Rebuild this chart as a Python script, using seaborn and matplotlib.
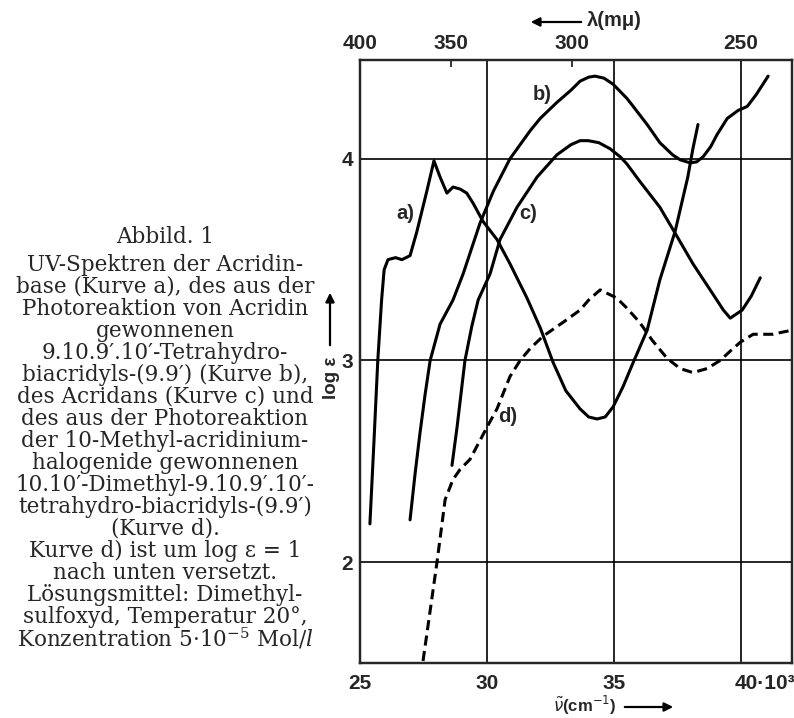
import matplotlib

matplotlib.use("Agg")

import pandas as pd
import matplotlib.pyplot as plt
import matplotlib.transforms as mtransforms
import seaborn as sns

# wavenumber (10^3 cm^-1) and log eps
a_wn = [25.39, 25.55, 25.70, 25.85, 25.95, 26.1, 26.4, 26.65, 26.97, 27.24,
        27.63, 27.91, 28.15, 28.42, 28.66, 28.94, 29.2, 29.45, 29.84, 30.39,
        30.9, 31.57, 32.1, 32.6, 33.1, 33.66, 34.0, 34.33, 34.65, 34.96,
        35.35, 35.75, 36.3, 36.6, 36.8, 37.4, 37.9, 38.1, 38.3]
a_loge = [2.19, 2.6, 3.0, 3.3, 3.45, 3.50, 3.51, 3.50, 3.52, 3.64,
          3.84, 3.99, 3.91, 3.83, 3.86, 3.85, 3.83, 3.78, 3.69, 3.60,
          3.48, 3.31, 3.16, 2.99, 2.85, 2.76, 2.72, 2.71, 2.72, 2.77,
          2.87, 2.99, 3.15, 3.30, 3.40, 3.64, 3.91, 4.05, 4.17]

b_wn = [26.97, 27.16, 27.36, 27.56, 27.76, 28.15, 28.66, 29.06, 29.72, 30.25,
        30.9, 31.7, 32.09, 32.75, 33.3, 33.66, 34.0, 34.25, 34.6, 34.96,
        35.5, 35.75, 36.3, 36.8, 37.3, 37.6, 37.99, 38.25, 38.5, 38.8,
        39.05, 39.45, 39.88, 40.24, 40.6, 41.06]
b_loge = [2.21, 2.43, 2.64, 2.83, 3.00, 3.18, 3.30, 3.43, 3.68, 3.84,
          4.00, 4.14, 4.20, 4.28, 4.34, 4.385, 4.405, 4.41, 4.40, 4.37,
          4.30, 4.26, 4.17, 4.08, 4.02, 3.995, 3.98, 3.985, 4.01, 4.06,
          4.12, 4.20, 4.24, 4.26, 4.32, 4.41]

c_wn = [28.62, 28.82, 29.13, 29.4, 29.65, 30.12, 30.51, 31.18, 31.97, 32.75,
        33.3, 33.66, 33.98, 34.4, 34.84, 35.24, 35.5, 36.0, 36.8, 37.5,
        38.1, 38.78, 39.3, 39.57, 40.04, 40.4, 40.75]
c_loge = [2.48, 2.67, 3.00, 3.17, 3.30, 3.43, 3.60, 3.76, 3.91, 4.02,
          4.07, 4.09, 4.09, 4.08, 4.05, 4.01, 3.975, 3.89, 3.76, 3.61,
          3.48, 3.35, 3.25, 3.21, 3.25, 3.32, 3.41]

d_wn = [27.48, 27.75, 28.03, 28.35, 28.66, 28.94, 29.33, 30.0, 30.39, 30.9,
        31.3, 31.7, 32.2, 33.0, 33.66, 34.0, 34.45, 35.1, 35.5, 36.0,
        36.5, 37.09, 37.6, 38.1, 38.66, 39.17, 39.6, 39.96, 40.47, 40.9,
        41.26, 41.6, 42.0]
d_loge = [1.51, 1.75, 2.0, 2.31, 2.41, 2.46, 2.51, 2.67, 2.76, 2.92,
          3.0, 3.06, 3.12, 3.19, 3.25, 3.30, 3.35, 3.31, 3.26, 3.19,
          3.10, 3.01, 2.96, 2.94, 2.96, 3.0, 3.05, 3.09, 3.13, 3.13,
          3.13, 3.14, 3.15]

curve_names = ["a", "b", "c", "d"]
label_pos = {"a": (26.77, 3.73), "b": (32.17, 4.32), "c": (31.61, 3.73), "d": (30.83, 2.72)}

x_ticks = [25, 30, 35, 40]
x_ticklabels = ["25", "30", "35", "40·10³"]
y_ticks = [2, 3, 4]
lambda_nm = [400, 350, 300, 250]

caption_title = "Abbild. 1"
caption_lines = [
    "UV-Spektren der Acridin-",
    "base (Kurve a), des aus der",
    "Photoreaktion von Acridin",
    "gewonnenen",
    "9.10.9′.10′-Tetrahydro-",
    "biacridyls-(9.9′) (Kurve b),",
    "des Acridans (Kurve c) und",
    "des aus der Photoreaktion",
    "der 10-Methyl-acridinium-",
    "halogenide gewonnenen",
    "10.10′-Dimethyl-9.10.9′.10′-",
    "tetrahydro-biacridyls-(9.9′)",
    "(Kurve d).",
    "Kurve d) ist um log ε = 1",
    "nach unten versetzt.",
    "Lösungsmittel: Dimethyl-",
    "sulfoxyd, Temperatur 20°,",
    r"Konzentration 5·10$^{-5}$ Mol/$\mathit{l}$",
]

W, H = 794, 718


def fxy(px, py):
    return px / W, 1 - py / H


sns.set_style("white")
plt.rcParams["font.family"] = ["DejaVu Sans"]
plt.rcParams["mathtext.fontset"] = "dejavuserif"
label_font = ["Liberation Sans Narrow", "Liberation Sans", "DejaVu Sans"]

fig = plt.figure(figsize=(W / 100, H / 100), dpi=100)
ax = fig.add_axes([360 / W, 1 - 663 / H, 432 / W, 603 / H])

frames = []
for name, xs, ys in [("a", a_wn, a_loge), ("b", b_wn, b_loge),
                     ("c", c_wn, c_loge), ("d", d_wn, d_loge)]:
    frames.append(pd.DataFrame({"wn": xs, "loge": ys, "curve": name}))
df = pd.concat(frames, ignore_index=True)

sns.lineplot(
    data=df, x="wn", y="loge", style="curve",
    dashes={"a": "", "b": "", "c": "", "d": (3.3, 1.8)},
    color="black", linewidth=2.2, estimator=None, sort=False,
    legend=False, ax=ax,
)

for name in curve_names:
    x, y = label_pos[name]
    ax.text(x, y, name + ")", fontsize=14.5, fontweight="bold",
            family=label_font, ha="center", va="center")

ax.set_xlim(25, 42)
ax.set_ylim(1.5, 4.49)
ax.set_xticks(x_ticks, x_ticklabels)
ax.set_yticks(y_ticks)
ax.grid(True, color="black", linewidth=1.2)
ax.set_xlabel("")
ax.set_ylabel("")
for s in ax.spines.values():
    s.set_color("black")
    s.set_linewidth(1.6)
ax.tick_params(axis="x", length=0, pad=8, labelsize=15)
ax.tick_params(axis="y", length=0, pad=5, labelsize=15)
for lbl in ax.get_xticklabels() + ax.get_yticklabels():
    lbl.set_fontweight("bold")
    lbl.set_family(label_font)
last = ax.get_xticklabels()[-1]
last.set_ha("left")
last.set_transform(last.get_transform() +
                   mtransforms.ScaledTranslation(-5 / 72, 0, fig.dpi_scale_trans))

# wavelength scale on top
ax2 = ax.twiny()
ax2.set_xlim(ax.get_xlim())
ax2.set_xticks([1e4 / l for l in lambda_nm], [str(l) for l in lambda_nm])
ax2.tick_params(axis="x", direction="in", length=5, width=1.3, pad=5, labelsize=15)
for lbl in ax2.get_xticklabels():
    lbl.set_fontweight("bold")
    lbl.set_family(label_font)
for s in ax2.spines.values():
    s.set_linewidth(1.6)

arrow = dict(arrowstyle="-|>", color="black", lw=1.6, mutation_scale=13)

# axis titles with arrows
fig.text(*fxy(587, 21), "λ(mμ)", fontsize=14.5, fontweight="bold",
         family=label_font, ha="left", va="center")
ax.annotate("", xy=fxy(528, 22), xytext=fxy(584, 22),
            xycoords="figure fraction", textcoords="figure fraction", arrowprops=arrow)

fig.text(*fxy(553, 705), r"$\tilde{\nu}$(cm$^{-1}$)", fontsize=12, fontweight="bold",
         family=label_font, math_fontfamily="dejavusans", ha="left", va="center")
ax.annotate("", xy=fxy(676, 707), xytext=fxy(622, 707),
            xycoords="figure fraction", textcoords="figure fraction", arrowprops=arrow)

fig.text(*fxy(331, 378), "log ε", fontsize=13.5, fontweight="bold", rotation=90,
         family=label_font, ha="center", va="center")
ax.annotate("", xy=fxy(330, 290), xytext=fxy(330, 348),
            xycoords="figure fraction", textcoords="figure fraction", arrowprops=arrow)

# caption block on the left
serif = ["DejaVu Serif"]
fig.text(*fxy(165, 237), caption_title, fontsize=15.5, family=serif,
         ha="center", va="center")
for i, line in enumerate(caption_lines):
    fig.text(*fxy(165, 265 + i * 22), line, fontsize=15.5, family=serif,
             ha="center", va="center")

fig.savefig("out.png", dpi=100)
